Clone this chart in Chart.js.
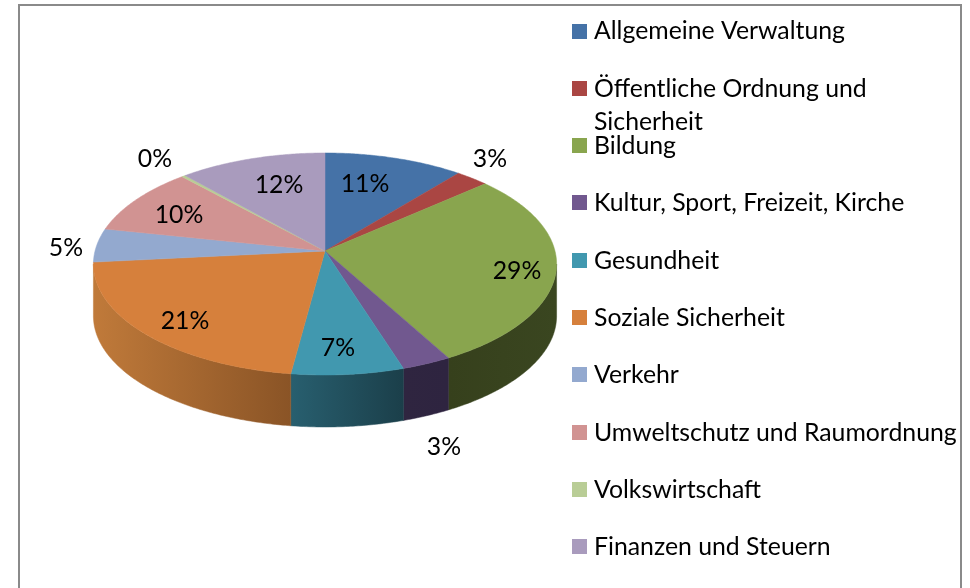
<!DOCTYPE html>
<html>
<head>
<meta charset="utf-8">
<style>html,body{margin:0;padding:0;background:#fff}canvas{display:block}</style>
<script src="https://cdn.jsdelivr.net/npm/chart.js@4"></script>
</head>
<body>
<canvas id="c" width="970" height="588"></canvas>
<script>
const categories = ["Allgemeine Verwaltung","Öffentliche Ordnung und Sicherheit","Bildung","Kultur, Sport, Freizeit, Kirche","Gesundheit","Soziale Sicherheit","Verkehr","Umweltschutz und Raumordnung","Volkswirtschaft","Finanzen und Steuern"];
const legendLines = [["Allgemeine Verwaltung"],["Öffentliche Ordnung und","Sicherheit"],["Bildung"],["Kultur, Sport, Freizeit, Kirche"],["Gesundheit"],["Soziale Sicherheit"],["Verkehr"],["Umweltschutz und Raumordnung"],["Volkswirtschaft"],["Finanzen und Steuern"]];
const shares = [10.9,2.6,28.5,3.1,7.0,21.3,4.9,9.9,0.3,11.5];
const colors = ["#4572A7","#AA4643","#89A54E","#71588F","#4198AF","#D6803C","#93A9CF","#D19392","#B9CD96","#A99BBD"];
const wallLeft = {0:"#2a4464",1:"#662a28",2:"#36401c",3:"#2f2540",4:"#285f6f",5:"#c07a3a",6:"#58657c",7:"#7d5857",8:"#6f7b5a",9:"#655d71"};
const wallRight = {0:"#2a4464",1:"#662a28",2:"#3a4620",3:"#2e2440",4:"#1b3f4a",5:"#8a5426",6:"#58657c",7:"#7d5857",8:"#6f7b5a",9:"#655d71"};
const labelAnchors = [[365,184],[490,159],[517,271],[444,447],[338,348],[185,321],[66,248],[179,215],[155,159],[279,185]];
const legendX = 572, legendY0 = 31.5, legendStep = 57.3, legendBox = 15, legendTextX = 594, legendLineH = 33;
const FONT = "24.8px Lato, sans-serif";
const TILT = 0.476, PERSP = 0.117, DEPTH = 52;

function project(arc, a){
  const t = a + Math.PI/2, u = Math.sin(t), v = Math.cos(t), d = 1 + PERSP*v;
  return [arc.x + arc.outerRadius*u/d, arc.y - arc.outerRadius*TILT*v/d];
}
const pie3d = {
  id:"pie3d",
  beforeDraw(chart){
    const c = chart.ctx;
    c.save();
    c.fillStyle="#fff"; c.fillRect(0,0,970,588);
    c.strokeStyle="#8a8a8a"; c.lineWidth=2;
    c.beginPath(); c.moveTo(19,588); c.lineTo(19,5); c.lineTo(961,5); c.lineTo(961,588); c.stroke();
    c.restore();
  },
  beforeDatasetsDraw(chart){
    const c = chart.ctx, arcs = chart.getDatasetMeta(0).data;
    const off = Math.acos(-PERSP);
    const lo = off - Math.PI/2, hi = 2*Math.PI - off - Math.PI/2;
    c.save();
    arcs.forEach((arc,i)=>{
      const s = Math.max(arc.startAngle,lo), e = Math.min(arc.endAngle,hi);
      if(e<=s) return;
      const pts=[]; const n=Math.max(2,Math.ceil((e-s)/0.01));
      for(let j=0;j<=n;j++) pts.push(project(arc,s+(e-s)*j/n));
      const xs=pts.map(p=>p[0]);
      const g=c.createLinearGradient(Math.min(...xs),0,Math.max(...xs),0);
      g.addColorStop(0, wallLeft[i]);
      g.addColorStop(1, wallRight[i]);
      c.fillStyle=g; c.strokeStyle=g; c.lineWidth=0.5;
      c.beginPath();
      pts.forEach((p,j)=> j?c.lineTo(p[0],p[1]):c.moveTo(p[0],p[1]));
      for(let j=n;j>=0;j--) c.lineTo(pts[j][0],pts[j][1]+DEPTH);
      c.closePath(); c.fill(); c.stroke();
    });
    arcs.forEach((arc,i)=>{
      const s=arc.startAngle,e=arc.endAngle,n=Math.max(2,Math.ceil((e-s)/0.01));
      c.fillStyle=colors[i]; c.strokeStyle=colors[i]; c.lineWidth=0.5;
      c.beginPath(); c.moveTo(arc.x,arc.y);
      for(let j=0;j<=n;j++){const p=project(arc,s+(e-s)*j/n); c.lineTo(p[0],p[1]);}
      c.closePath(); c.fill(); c.stroke();
    });
    c.restore();
    return false;
  },
  afterDraw(chart){
    const c = chart.ctx, vals = chart.data.datasets[0].data;
    c.save();
    c.font=FONT; c.fillStyle="#000"; c.textBaseline="middle"; c.textAlign="center";
    vals.forEach((v,i)=> c.fillText(Math.round(v)+"%",labelAnchors[i][0],labelAnchors[i][1]));
    c.textAlign="left";
    legendLines.forEach((lines,i)=>{
      const y=legendY0+legendStep*i;
      c.fillStyle=colors[i];
      c.fillRect(legendX,Math.round(y-0.5-legendBox/2),legendBox,legendBox);
      c.fillStyle="#000";
      lines.forEach((t,k)=>c.fillText(t,legendTextX,y+k*legendLineH));
    });
    c.restore();
  }
};
new Chart(document.getElementById("c"),{
  type:"pie",
  data:{labels:categories,datasets:[{data:shares,backgroundColor:colors,borderWidth:0}]},
  options:{
    responsive:false,animation:false,
    layout:{padding:{left:95,right:415,top:21,bottom:107}},
    plugins:{legend:{display:false},tooltip:{enabled:false}}
  },
  plugins:[pie3d]
});
</script>
</body>
</html>
